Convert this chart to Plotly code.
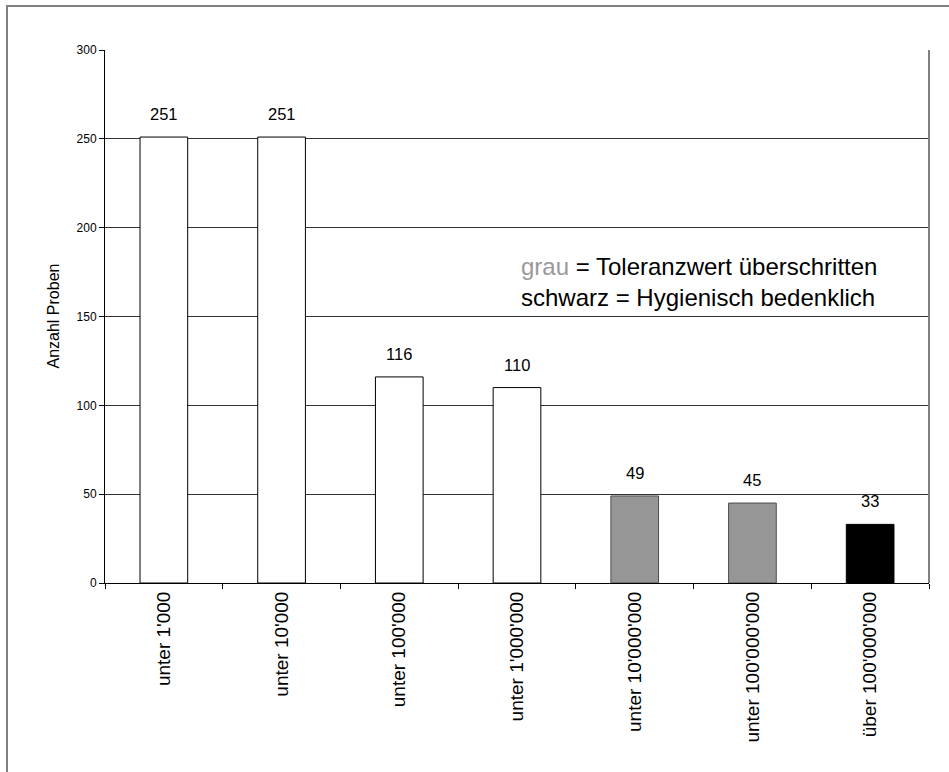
import plotly.graph_objects as go

categories = ["unter 1'000", "unter 10'000", "unter 100'000", "unter 1'000'000",
              "unter 10'000'000", "unter 100'000'000", "über 100'000'000"]
values = [251, 251, 116, 110, 49, 45, 33]
bar_colors = ["#FFFFFF", "#FFFFFF", "#FFFFFF", "#FFFFFF", "#969696", "#969696", "#000000"]
line_colors = ["#000000", "#000000", "#000000", "#000000", "#4D4D4D", "#4D4D4D", "#000000"]
y_ticks = [0, 50, 100, 150, 200, 250, 300]

FONT = "Arial, Liberation Sans, sans-serif"

L, T, R, B = 105, 50, 20, 189
W, H = 949, 772
pw, ph = W - L - R, H - T - B

fig = go.Figure()
fig.add_trace(go.Bar(
    x=categories, y=values, width=0.405,
    marker=dict(color=bar_colors, line=dict(color=line_colors, width=1)),
    hoverinfo="skip",
))

for c, v in zip(categories, values):
    fig.add_annotation(x=c, y=v, text=str(v), showarrow=False, yanchor="middle",
                       yshift=23, font=dict(family=FONT, size=16.5, color="#000"))

def px_x(x):
    return (x - L) / pw

def px_y(y):
    return (H - B - y) / ph

fig.add_annotation(xref="paper", yref="paper", x=px_x(519), y=px_y(266), xanchor="left",
                   yanchor="middle", showarrow=False,
                   text="<span style='color:#999999'>grau</span> = Toleranzwert überschritten",
                   font=dict(family=FONT, size=24, color="#000"))
fig.add_annotation(xref="paper", yref="paper", x=px_x(519), y=px_y(297), xanchor="left",
                   yanchor="middle", showarrow=False,
                   text="schwarz = Hygienisch bedenklich",
                   font=dict(family=FONT, size=24, color="#000"))
fig.add_annotation(xref="paper", yref="paper", x=px_x(53), y=px_y(316.5), textangle=-90,
                   xanchor="center", yanchor="middle", showarrow=False,
                   text="Anzahl Proben", font=dict(family=FONT, size=16, color="#000"))

# right border of plot area (gray)
fig.add_shape(type="line", xref="paper", yref="paper", x0=1, x1=1, y0=0, y1=1,
              line=dict(color="#808080", width=2))
# outer chart border
fig.add_shape(type="rect", xref="paper", yref="paper",
              x0=px_x(7), x1=px_x(960), y0=px_y(6), y1=px_y(790),
              line=dict(color="#808080", width=2), fillcolor="rgba(0,0,0,0)")

fig.update_layout(
    width=W, height=H,
    margin=dict(l=L, r=R, t=T, b=B, pad=0),
    paper_bgcolor="white", plot_bgcolor="white",
    showlegend=False, bargap=0.595,
    font=dict(family=FONT, color="#000"),
)
fig.update_xaxes(
    tickangle=-90, tickfont=dict(family=FONT, size=19, color="#000"),
    showline=True, linecolor="#000", linewidth=1,
    ticks="outside", ticklen=5, tickcolor="#000", tickson="boundaries",
    showgrid=False, zeroline=False, fixedrange=True,
)
fig.update_yaxes(
    range=[0, 300], tickvals=y_ticks, ticktext=[str(t) for t in y_ticks],
    tickfont=dict(family=FONT, size=12, color="#000"),
    showline=True, linecolor="#000", linewidth=1,
    ticks="outside", ticklen=5, tickcolor="#000",
    showgrid=True, gridcolor="#333333", gridwidth=1,
    zeroline=False, fixedrange=True,
)

fig.write_html("out.html")
